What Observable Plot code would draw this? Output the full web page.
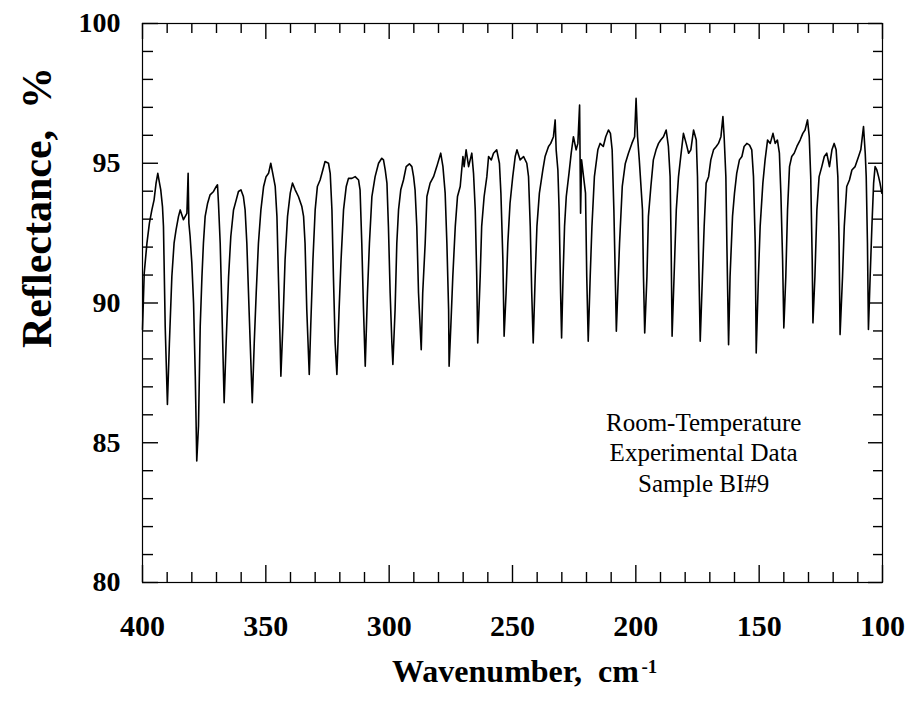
<!DOCTYPE html>
<html><head><meta charset="utf-8">
<script src="https://cdn.jsdelivr.net/npm/d3@7"></script>
<script src="https://cdn.jsdelivr.net/npm/@observablehq/plot@0.6"></script>
<style>body{margin:0;background:#fff;overflow:hidden;}</style>
</head><body><div id="chart"></div>
<script>
const wavenumber = [
400.0,399.3,398.2,397.2,396.2,395.3,394.5,393.8,393.1,392.6,391.9,391.5,390.8,389.9,389.1,388.1,387.2,386.4,385.4,384.7,
383.4,382.0,381.5,381.2,380.7,380.0,379.3,378.6,378.0,377.3,376.6,375.9,375.3,374.6,373.6,372.6,371.2,370.1,369.6,369.2,
368.5,367.8,366.9,366.1,365.1,364.2,363.1,362.0,361.1,360.1,359.1,358.4,357.7,356.8,355.5,354.7,353.9,353.0,352.0,350.9,
349.9,348.9,348.0,347.2,346.2,345.5,344.9,344.2,343.9,343.1,342.2,341.2,340.1,339.2,338.1,336.8,335.4,334.7,334.1,333.4,
332.4,331.8,330.9,330.0,329.1,328.0,326.9,326.0,324.6,323.9,323.2,322.6,321.9,321.2,320.3,319.5,318.5,317.4,316.5,315.1,
313.8,312.4,311.8,311.1,310.4,309.7,308.8,308.0,307.0,305.7,304.3,303.0,302.3,301.6,300.9,300.3,299.6,298.9,298.5,297.6,
296.9,296.2,295.3,294.2,293.1,291.8,290.8,290.1,289.5,288.8,288.1,287.0,286.4,285.4,284.7,283.4,282.0,280.7,279.1,278.2,
277.3,276.6,275.9,275.7,275.0,274.2,273.2,272.3,271.2,270.1,269.6,268.8,267.8,266.5,265.8,265.1,264.5,264.1,263.1,262.5,
261.5,260.4,259.7,258.6,257.7,256.4,255.3,254.7,253.9,253.4,252.6,251.9,251.0,249.9,248.9,248.2,246.9,245.5,244.2,243.5,
242.8,242.2,241.6,240.8,240.1,239.1,237.7,236.8,235.4,234.5,233.4,232.7,232.3,231.6,231.1,230.5,230.1,229.5,228.9,228.2,
227.1,226.2,225.3,224.2,223.5,222.8,222.4,222.0,221.2,220.4,219.9,219.3,218.5,217.8,216.8,215.4,214.5,213.2,212.2,211.1,
210.3,209.6,208.9,208.2,207.9,207.2,206.6,205.5,204.3,203.0,201.6,200.5,199.9,199.3,198.6,197.3,196.9,196.4,195.5,194.9,
193.9,192.9,191.8,190.8,189.9,188.8,187.7,186.8,186.1,185.7,185.3,184.5,183.6,182.7,181.8,180.7,179.6,178.6,177.7,176.6,
175.5,175.0,174.5,173.9,173.0,172.3,171.5,170.5,169.6,168.5,167.4,166.5,165.5,164.7,164.2,163.5,163.1,162.4,161.8,160.8,
160.0,159.1,158.0,157.0,156.1,155.0,153.9,153.0,152.3,151.6,151.2,150.3,149.6,148.5,147.6,146.6,145.5,144.4,143.5,142.6,
141.8,141.2,140.5,140.0,139.2,138.5,137.7,136.8,135.8,134.7,133.4,132.3,131.4,130.4,129.7,129.1,128.5,128.2,127.4,126.6,
125.7,124.6,123.6,122.6,121.5,120.5,119.6,118.8,118.1,117.6,117.2,116.2,115.5,114.5,113.4,112.4,111.1,109.7,108.8,107.7,
107.0,106.6,106.1,105.7,105.0,104.3,103.6,103.0,102.3,101.6,101.0,100.3
];
const reflectance = [
89.05,91.07,92.14,92.86,93.33,93.69,94.29,94.64,94.29,94.05,93.45,92.74,89.17,86.37,88.57,90.95,92.14,92.62,93.10,93.33,
92.98,93.21,94.64,92.86,92.38,91.43,90.00,87.38,84.35,85.60,89.17,90.95,92.14,93.10,93.57,93.87,93.99,94.17,94.23,93.57,
92.14,89.76,86.43,88.57,90.95,92.38,93.33,93.69,93.99,94.05,93.81,93.33,92.14,89.76,86.43,88.57,90.36,92.14,93.33,94.17,
94.52,94.64,95.00,94.64,94.17,93.10,90.95,88.57,87.38,89.17,91.55,93.10,93.93,94.29,94.05,93.81,93.45,93.10,92.14,89.76,
87.44,89.17,91.55,93.33,94.17,94.40,94.76,95.06,95.00,94.64,93.33,90.95,88.57,87.44,89.76,91.55,93.33,94.17,94.46,94.46,
94.52,94.40,94.05,92.14,89.76,87.74,90.36,92.14,93.81,94.52,95.00,95.18,95.12,94.76,94.29,92.74,90.36,88.57,87.80,89.76,
92.14,93.33,94.05,94.40,94.88,94.98,94.88,94.52,94.05,92.74,90.36,88.33,90.36,92.14,93.81,94.29,94.52,94.88,95.36,94.88,
93.93,92.14,89.76,87.74,89.17,90.95,92.74,93.81,94.17,95.24,94.88,95.48,94.88,95.36,94.64,93.33,90.95,88.57,90.95,92.74,
93.81,94.52,95.24,95.12,95.36,95.48,95.00,93.93,91.55,88.81,90.36,92.14,93.57,94.52,95.24,95.48,95.12,95.24,95.00,94.52,
92.74,90.36,88.57,90.95,92.74,93.93,94.76,95.24,95.60,95.71,95.95,96.55,95.48,94.76,93.33,90.36,88.75,90.95,92.74,93.81,
94.64,95.36,95.95,95.48,95.71,97.08,93.21,95.12,94.52,93.93,90.95,88.63,90.95,92.74,94.52,95.48,95.71,95.60,95.95,96.19,
96.07,95.48,93.33,90.36,88.99,90.71,92.14,94.17,94.98,95.36,95.71,95.95,97.32,95.95,95.12,93.33,90.95,88.93,90.95,93.10,
94.17,95.12,95.48,95.71,95.83,95.95,96.19,95.60,94.52,92.14,88.81,90.95,93.33,94.52,95.24,96.07,95.71,95.36,95.48,96.19,
95.83,94.52,91.55,88.63,90.95,92.74,94.29,94.52,95.12,95.48,95.60,95.71,95.95,96.67,95.95,94.52,92.14,88.51,90.95,93.10,
93.93,94.64,95.12,95.24,95.60,95.71,95.65,95.48,94.52,92.14,88.21,90.95,92.74,94.29,95.12,95.83,95.71,96.07,95.71,95.83,
95.36,93.93,91.55,89.11,90.95,93.33,94.88,95.24,95.36,95.60,95.83,96.07,96.19,96.55,95.95,94.52,91.55,89.29,90.95,93.33,
94.52,94.88,95.24,95.36,94.88,95.48,95.71,95.48,94.52,92.14,88.87,90.95,92.74,94.17,94.40,94.76,94.88,95.24,95.48,96.31,
95.36,94.52,92.14,89.05,90.95,92.74,94.29,94.88,94.76,94.52,94.29,93.93
];
const xTickLabels = [400, 350, 300, 250, 200, 150, 100];
const xMinorTicks = [390,380,370,360,340,330,320,310,290,280,270,260,240,230,220,210,190,180,170,160,140,130,120,110];
const yTickLabels = [100, 95, 90, 85, 80];
const yMinorTicks = [99,98,97,96,94,93,92,91,89,88,87,86,84,83,82,81];
const annotationLines = ["Room-Temperature", "Experimental Data", "Sample BI#9"];
const xTitle = "Wavenumber,\u00a0 cm";
const xTitleSup = "-1";
const yTitle = "Reflectance,\u00a0 %";

const rows = wavenumber.map((w, i) => ({w, r: reflectance[i]}));
const W = 920, H = 705, mL = 142, mR = 38, mT = 23, mB = 123;
const fw = W - mL - mR, fh = H - mT - mB;
const px = 300 / fw, py = 20 / fh;   // one pixel in data units (tick lengths)
const serif = "'Liberation Serif', 'Times New Roman', serif";

const plot = Plot.plot({
  width: W, height: H,
  marginLeft: mL, marginRight: mR, marginTop: mT, marginBottom: mB,
  style: {fontFamily: serif, background: "#fff", color: "#000"},
  x: {domain: [400, 100]},
  y: {domain: [80, 100]},
  marks: [
    Plot.ruleX(xMinorTicks, {x: d => d, y1: 80, y2: 80 + 10 * py, stroke: "#000", strokeWidth: 1.4}),
    Plot.ruleX(xMinorTicks, {x: d => d, y1: 100, y2: 100 - 10 * py, stroke: "#000", strokeWidth: 1.4}),
    Plot.ruleX(xTickLabels, {x: d => d, y1: 80, y2: 80 + 17 * py, stroke: "#000", strokeWidth: 1.4}),
    Plot.ruleX(xTickLabels, {x: d => d, y1: 100, y2: 100 - 16 * py, stroke: "#000", strokeWidth: 1.4}),
    Plot.ruleY(yMinorTicks, {y: d => d, x1: 400, x2: 400 - 11 * px, stroke: "#000", strokeWidth: 1.4}),
    Plot.ruleY(yMinorTicks, {y: d => d, x1: 100, x2: 100 + 9 * px, stroke: "#000", strokeWidth: 1.4}),
    Plot.ruleY(yTickLabels, {y: d => d, x1: 400, x2: 400 - 16 * px, stroke: "#000", strokeWidth: 1.4}),
    Plot.ruleY(yTickLabels, {y: d => d, x1: 100, x2: 100 + 14 * px, stroke: "#000", strokeWidth: 1.4}),
    Plot.frame({stroke: "#000", strokeWidth: 1.2}),
    Plot.axisX(xTickLabels, {tickSize: 0, tickPadding: 32, fontSize: 30, fontWeight: "bold", label: null, tickFormat: d => String(d)}),
    Plot.axisY(yTickLabels, {tickSize: 0, tickPadding: 22, fontSize: 28, fontWeight: "bold", label: null, tickFormat: d => String(d)}),
    Plot.line(rows, {x: "w", y: "r", stroke: "#000", strokeWidth: 1.6, strokeLinejoin: "round"}),
    Plot.text([annotationLines.join("\n")], {x: 172.5, y: 84.68, text: d => d, fontSize: 25, lineHeight: 1.22, fill: "#000"}),
    Plot.text([xTitle], {frameAnchor: "bottom", text: d => d, dx: 3, dy: 99, fontSize: 32, fontWeight: "bold", fill: "#000"}),
    Plot.text([xTitleSup], {frameAnchor: "bottom", text: d => d, dx: 129, dy: 90, textAnchor: "start", fontSize: 19, fontWeight: "bold", fill: "#000"}),
    Plot.text([yTitle], {frameAnchor: "left", text: d => d, rotate: -90, dx: -105, dy: 45, fontSize: 42, fontWeight: "bold", fill: "#000"})
  ]
});

document.getElementById("chart").appendChild(plot);
</script>
</body></html>
